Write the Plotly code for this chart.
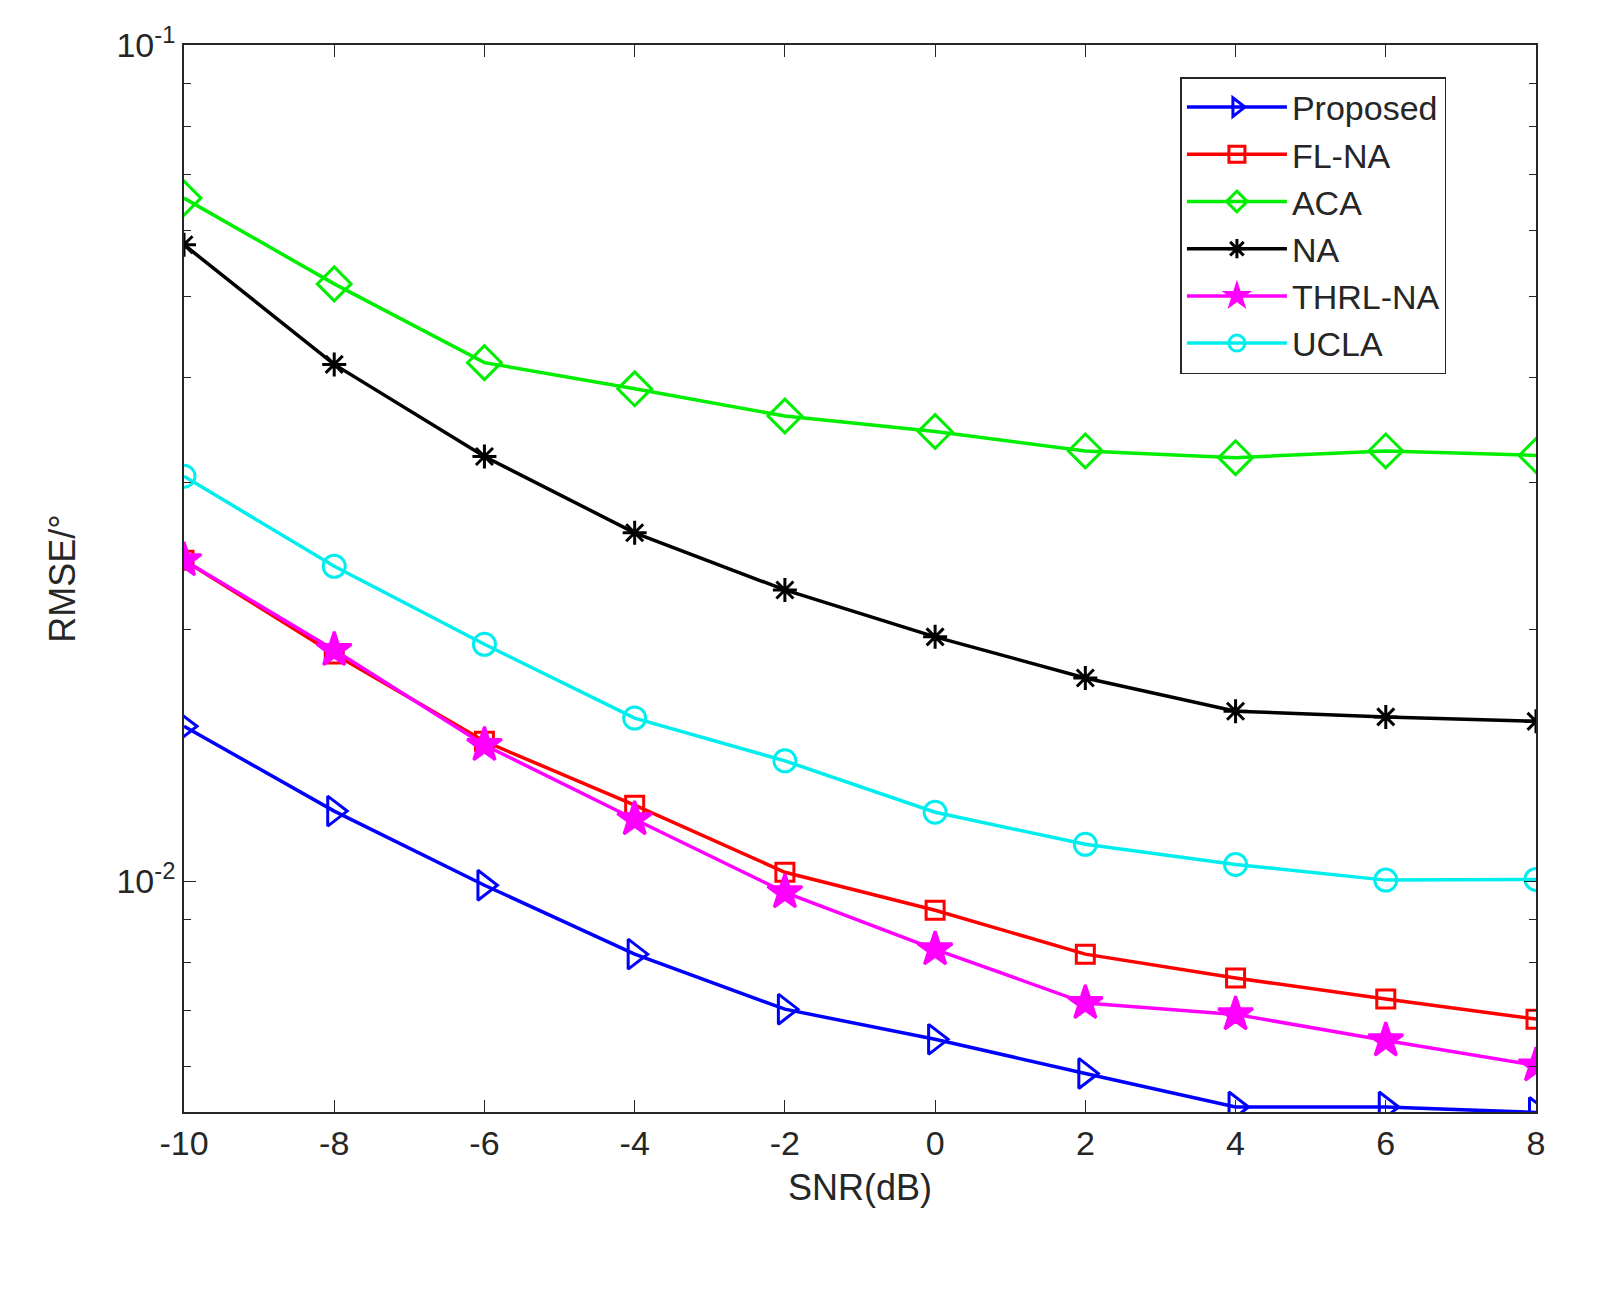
import plotly.graph_objects as go

snr = [-10, -8, -6, -4, -2, 0, 2, 4, 6, 8]
snr_labels = ["-10", "-8", "-6", "-4", "-2", "0", "2", "4", "6", "8"]
proposed = [0.01532, 0.01213, 0.00989, 0.00818, 0.00703, 0.00647, 0.00589, 0.00537, 0.00537, 0.00529]
fl_na = [0.0242, 0.0187, 0.0147, 0.01233, 0.01025, 0.00923, 0.00818, 0.00766, 0.00723, 0.00684]
aca = [0.0656, 0.0518, 0.0417, 0.0388, 0.0360, 0.0345, 0.0327, 0.0321, 0.0327, 0.0323]
na = [0.0577, 0.0415, 0.0322, 0.0261, 0.0223, 0.0196, 0.0175, 0.01597, 0.01572, 0.01553]
thrl_na = [0.0242, 0.0189, 0.01455, 0.01186, 0.0097, 0.00829, 0.00715, 0.00693, 0.00645, 0.00602]
ucla = [0.0305, 0.0238, 0.0192, 0.01567, 0.01393, 0.01209, 0.01107, 0.01047, 0.01003, 0.01005]

series = [
    ("Proposed", proposed, "#0000ff", "triangle-right-open", 26),
    ("FL-NA", fl_na, "#ff0000", "square-open", 18),
    ("ACA", aca, "#00ee00", "diamond-open", 26),
    ("NA", na, "#000000", "asterisk-open", 20),
    ("THRL-NA", thrl_na, "#ff00ff", "star", 26),
    ("UCLA", ucla, "#00eeee", "circle-open", 22),
]

fig = go.Figure()
for name, vals, col, sym, sz in series:
    fig.add_trace(go.Scatter(
        x=snr, y=vals, name=name, mode="lines+markers",
        line=dict(color=col, width=3.5),
        marker=dict(symbol=sym, size=sz, color=col, line=dict(color=col, width=3)),
    ))

fig.update_layout(
    width=1618, height=1291,
    margin=dict(l=176, r=90, t=37, b=187),
    plot_bgcolor="white", paper_bgcolor="white",
    font=dict(family="Liberation Sans, Arial", size=34, color="#262626"),
    legend=dict(x=0.737, y=0.97, xanchor="left", yanchor="top",
                bordercolor="#262626", borderwidth=1.5, bgcolor="white",
                font=dict(size=34), itemwidth=100, tracegroupgap=8),
    xaxis=dict(range=[-10, 8], tickvals=snr, ticktext=snr_labels,
               title=dict(text="SNR(dB)", font=dict(size=36), standoff=14),
               showline=True, mirror="ticks", linecolor="#262626", linewidth=1.5,
               ticks="inside", ticklen=12, tickcolor="#262626", showgrid=False, zeroline=False),
    yaxis=dict(type="log", range=[-2.276, -1], tickvals=[0.01, 0.1],
               ticktext=["10<sup>-2</sup>", "10<sup>-1</sup>"],
               title=dict(text="RMSE/°", font=dict(size=36), standoff=30),
               showline=True, mirror="ticks", linecolor="#262626", linewidth=1.5,
               ticks="inside", ticklen=12, tickcolor="#262626", showgrid=False, zeroline=False,
               minor=dict(tickvals=[0.006, 0.007, 0.008, 0.009, 0.02, 0.03, 0.04, 0.05, 0.06, 0.07, 0.08, 0.09],
                          ticks="inside", ticklen=7, tickcolor="#262626")),
)

fig.write_html("out.html")
